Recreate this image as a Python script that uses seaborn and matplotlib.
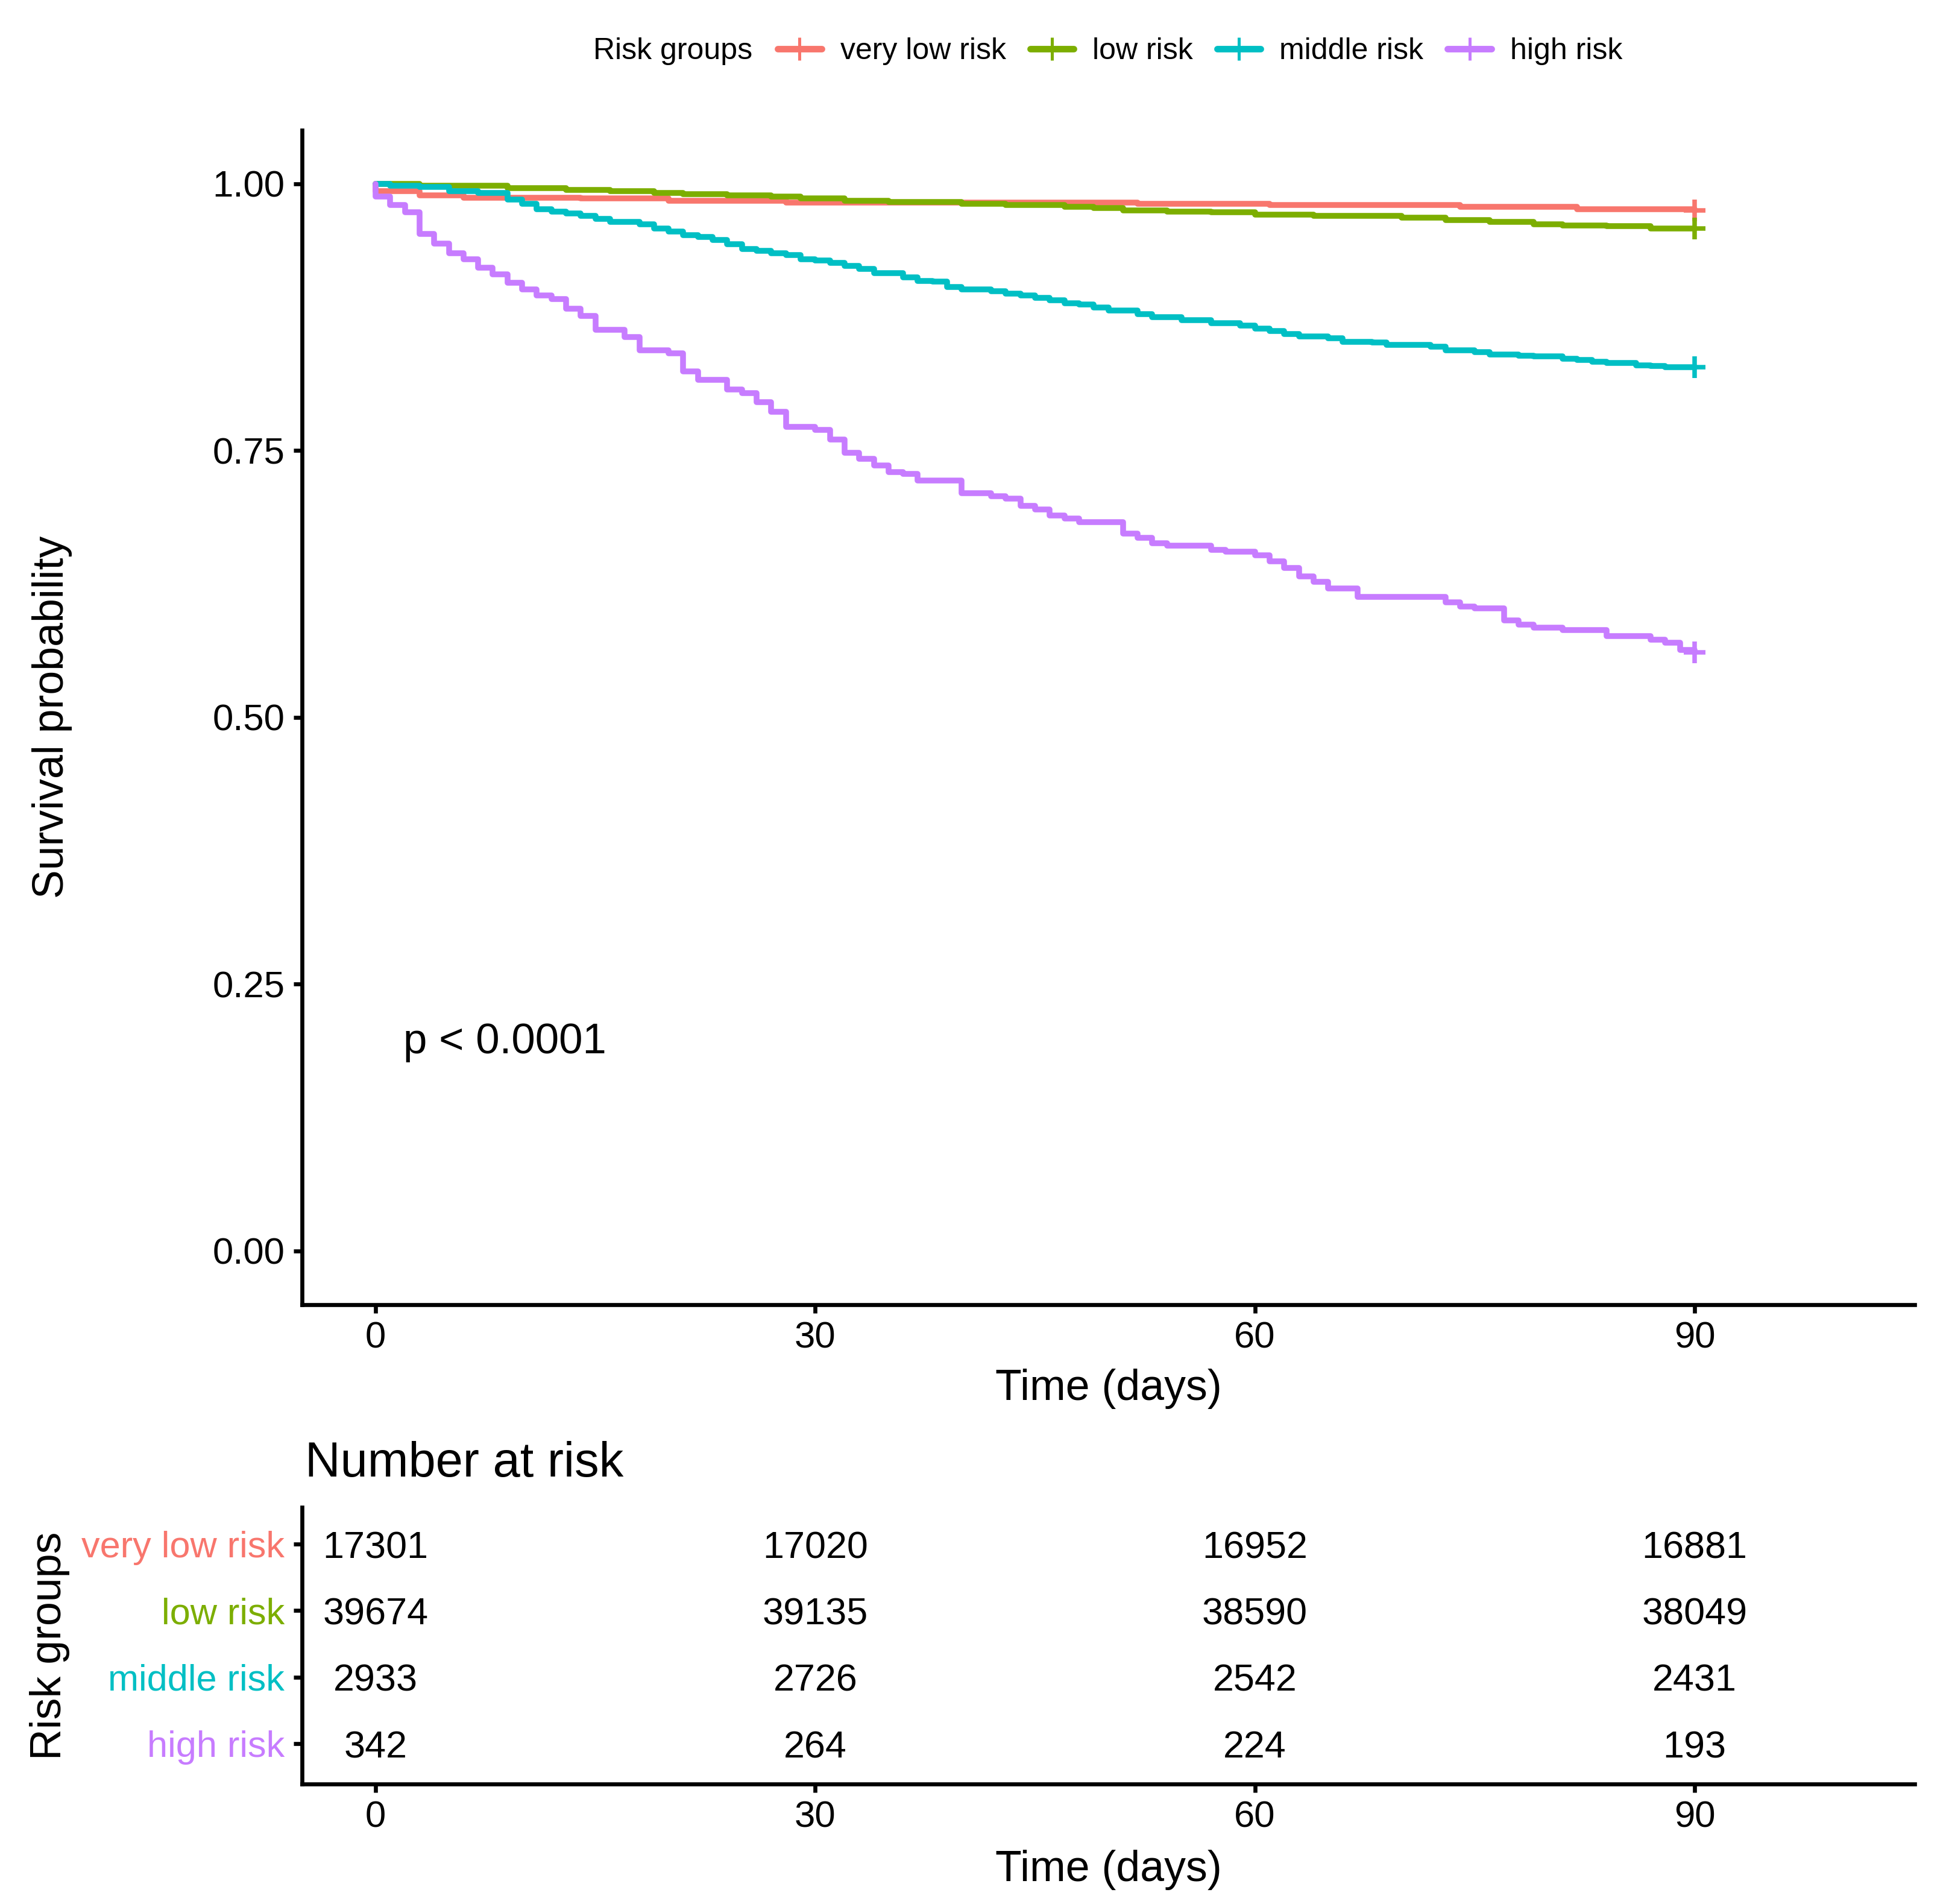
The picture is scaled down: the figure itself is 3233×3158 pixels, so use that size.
import pandas as pd
import matplotlib
matplotlib.use('Agg')
import matplotlib.pyplot as plt
import seaborn as sns
from matplotlib.lines import Line2D

# 1. Dados (curvas de Kaplan-Meier por grupo de risco)
grupos = ['very low risk', 'low risk', 'middle risk', 'high risk']
cores = ['#F8766D', '#7CAE00', '#00BFC4', '#C77CFF']

t_muito_baixo = [0, 0, 3, 6, 14, 20, 28, 52, 61, 74, 82, 90]
s_muito_baixo = [1.0, 0.993, 0.989, 0.987, 0.986, 0.984, 0.982, 0.981, 0.980, 0.978, 0.976, 0.975]

t_baixo = [0, 3, 9, 13, 16, 19, 21, 24, 27, 29, 32, 35, 40, 43, 47, 49, 51, 54, 57, 60, 64,
           70, 73, 76, 79, 81, 84, 87, 90]
s_baixo = [1.0, 0.998, 0.996, 0.994, 0.993, 0.991, 0.990, 0.989, 0.988, 0.986, 0.984, 0.983,
           0.981, 0.980, 0.978, 0.977, 0.975, 0.974, 0.973, 0.971, 0.970, 0.968, 0.966, 0.964,
           0.962, 0.961, 0.960, 0.958, 0.958]

t_medio = [0, 1, 3, 5, 7, 9, 10, 11, 12, 13, 14, 15, 16, 18, 19, 20, 21, 22, 23, 24, 25, 26,
           27, 28, 29, 30, 31, 32, 33, 34, 36, 37, 38, 39, 40, 42, 43, 44, 45, 46, 47, 48, 49,
           50, 52, 53, 55, 57, 59, 60, 61, 62, 63, 65, 66, 68, 69, 72, 73, 75, 76, 78, 79, 81,
           82, 83, 84, 86, 87, 88, 90]
s_medio = [1.0, 0.998, 0.997, 0.993, 0.991, 0.985, 0.981, 0.976, 0.974, 0.972, 0.970, 0.967,
           0.964, 0.962, 0.958, 0.955, 0.952, 0.950, 0.947, 0.943, 0.939, 0.937, 0.935, 0.933,
           0.929, 0.928, 0.926, 0.923, 0.920, 0.916, 0.912, 0.909, 0.908, 0.903, 0.901, 0.899,
           0.897, 0.895, 0.893, 0.891, 0.888, 0.887, 0.884, 0.881, 0.878, 0.875, 0.872, 0.869,
           0.867, 0.864, 0.862, 0.859, 0.857, 0.855, 0.852, 0.851, 0.849, 0.847, 0.844, 0.842,
           0.840, 0.839, 0.838, 0.836, 0.835, 0.833, 0.832, 0.830, 0.829, 0.828, 0.828]

t_alto = [0, 0, 1, 2, 3, 4, 5, 6, 7, 8, 9, 10, 11, 12, 13, 14, 15, 17, 18, 20, 21, 22, 24, 25,
          26, 27, 28, 30, 31, 32, 33, 34, 35, 36, 37, 40, 42, 43, 44, 45, 46, 47, 48, 51, 52,
          53, 54, 57, 58, 60, 61, 62, 63, 64, 65, 67, 73, 74, 75, 77, 78, 79, 81, 84, 87, 88,
          89, 90]
s_alto = [1.0, 0.988, 0.980, 0.973, 0.953, 0.944, 0.935, 0.929, 0.921, 0.915, 0.907, 0.901,
          0.895, 0.892, 0.883, 0.876, 0.863, 0.856, 0.844, 0.841, 0.824, 0.816, 0.807, 0.804,
          0.795, 0.786, 0.772, 0.769, 0.760, 0.748, 0.742, 0.736, 0.730, 0.728, 0.722, 0.710,
          0.707, 0.705, 0.698, 0.695, 0.689, 0.686, 0.683, 0.672, 0.668, 0.663, 0.661, 0.657,
          0.655, 0.652, 0.646, 0.640, 0.632, 0.627, 0.621, 0.613, 0.608, 0.604, 0.602, 0.591,
          0.587, 0.584, 0.582, 0.576, 0.573, 0.570, 0.563, 0.561]

# 2. Tabela "Number at risk"
tempos_tabela = [0, 30, 60, 90]
n_muito_baixo = [17301, 17020, 16952, 16881]
n_baixo = [39674, 39135, 38590, 38049]
n_medio = [2933, 2726, 2542, 2431]
n_alto = [342, 264, 224, 193]

ticks_y = [0.0, 0.25, 0.50, 0.75, 1.00]
texto_p = 'p < 0.0001'

curvas = [(t_muito_baixo, s_muito_baixo), (t_baixo, s_baixo), (t_medio, s_medio), (t_alto, s_alto)]
tabela = [n_muito_baixo, n_baixo, n_medio, n_alto]

# 3. Estilo
sns.set_theme(style='white')
plt.rcParams['font.family'] = ['Liberation Sans', 'DejaVu Sans']
plt.rcParams['axes.linewidth'] = 1.6
plt.rcParams['text.color'] = 'black'
plt.rcParams['axes.labelcolor'] = 'black'
plt.rcParams['xtick.color'] = 'black'
plt.rcParams['ytick.color'] = 'black'

LARG, ALT, DPI = 3233, 3158, 300
fig = plt.figure(figsize=(LARG / DPI, ALT / DPI), dpi=DPI)
fig.patch.set_facecolor('white')

def estilo_eixo(ax):
    for lado in ['top', 'right']:
        ax.spines[lado].set_visible(False)
    for lado in ['left', 'bottom']:
        ax.spines[lado].set_color('black')
        ax.spines[lado].set_linewidth(1.6)
    ax.tick_params(axis='both', which='major', length=3.4, width=1.6, color='black',
                   labelsize=14.8, labelcolor='black', left=True, bottom=True)
    ax.tick_params(axis='x', pad=3.3)
    ax.tick_params(axis='y', pad=3.6)
    ax.set_facecolor('white')
    ax.grid(False)

# 4. Curvas de sobrevida
ax = fig.add_axes([501.4 / LARG, 1 - 2163.5 / ALT, 2674.2 / LARG, 1947.5 / ALT])
for grupo, cor, (t, s) in zip(grupos, cores, curvas):
    df = pd.DataFrame({'tempo': t, 'sobrevida': s, 'grupo': grupo})
    sns.lineplot(data=df, x='tempo', y='sobrevida', color=cor, linewidth=2.3,
                 drawstyle='steps-post', estimator=None, sort=False, legend=False, ax=ax)
    ax.plot(df['tempo'].iloc[-1], df['sobrevida'].iloc[-1], marker='+', markersize=8.5,
            markeredgewidth=1.8, color=cor, linestyle='none')

ax.set_xlim(-5, 105)
ax.set_ylim(-0.05, 1.05)
ax.set_xticks(tempos_tabela)
ax.set_xticklabels([str(v) for v in tempos_tabela])
ax.set_yticks(ticks_y)
ax.set_yticklabels([f'{v:.2f}' for v in ticks_y])
estilo_eixo(ax)
ax.set_xlabel('Time (days)', fontsize=17.2, va='center', color='black')
ax.set_ylabel('Survival probability', fontsize=17.2, va='center', color='black')
ax.xaxis.set_label_coords(0.5, -0.0721)
ax.yaxis.set_label_coords(-0.155, 0.5)
ax.text(1.9, 0.185, texto_p, fontsize=17, ha='left', va='baseline', color='black')

# 5. Legenda no topo
fig.text(984 / LARG, 1 - 85 / ALT, 'Risk groups', fontsize=12.0, ha='left', va='center',
         color='black')
alcas = [Line2D([0], [0], color=c, lw=2.6, marker='+', markersize=9, markeredgewidth=1.2)
         for c in cores]
leg = fig.legend(alcas, grupos, loc='center left', bbox_to_anchor=(1290 / LARG, 1 - 85 / ALT),
                 ncol=4, frameon=False, fontsize=12.0, handlelength=1.45, handletextpad=0.62,
                 columnspacing=0.8, numpoints=1, borderpad=0, borderaxespad=0)
for txt in leg.get_texts():
    txt.set_color('black')

# 6. Tabela de numero em risco
ax_t = fig.add_axes([501.4 / LARG, 1 - 2959 / ALT, 2674.2 / LARG, 459 / ALT])
posicoes = [4, 3, 2, 1]
for linha, y in zip(tabela, posicoes):
    for tempo, n in zip(tempos_tabela, linha):
        ax_t.text(tempo, y, str(n), fontsize=15.1, ha='center', va='center_baseline',
                  color='black')
ax_t.set_xlim(-5, 105)
ax_t.set_ylim(0.393, 4.553)
ax_t.set_xticks(tempos_tabela)
ax_t.set_xticklabels([str(v) for v in tempos_tabela])
ax_t.set_yticks(posicoes)
ax_t.set_yticklabels(grupos)
estilo_eixo(ax_t)
ax_t.tick_params(axis='y', labelsize=14.7)
for rotulo, cor in zip(ax_t.get_yticklabels(), cores):
    rotulo.set_color(cor)
ax_t.set_xlabel('Time (days)', fontsize=17.2, va='center', color='black')
ax_t.set_ylabel('Risk groups', fontsize=17.2, va='center', color='black')
ax_t.xaxis.set_label_coords(0.5, -0.3115)
ax_t.yaxis.set_label_coords(-0.1565, 0.5)
fig.text(506 / LARG, 1 - 2449 / ALT, 'Number at risk', fontsize=19.5, ha='left',
         va='baseline', color='black')

fig.savefig('out.png', dpi=DPI, facecolor='white')
